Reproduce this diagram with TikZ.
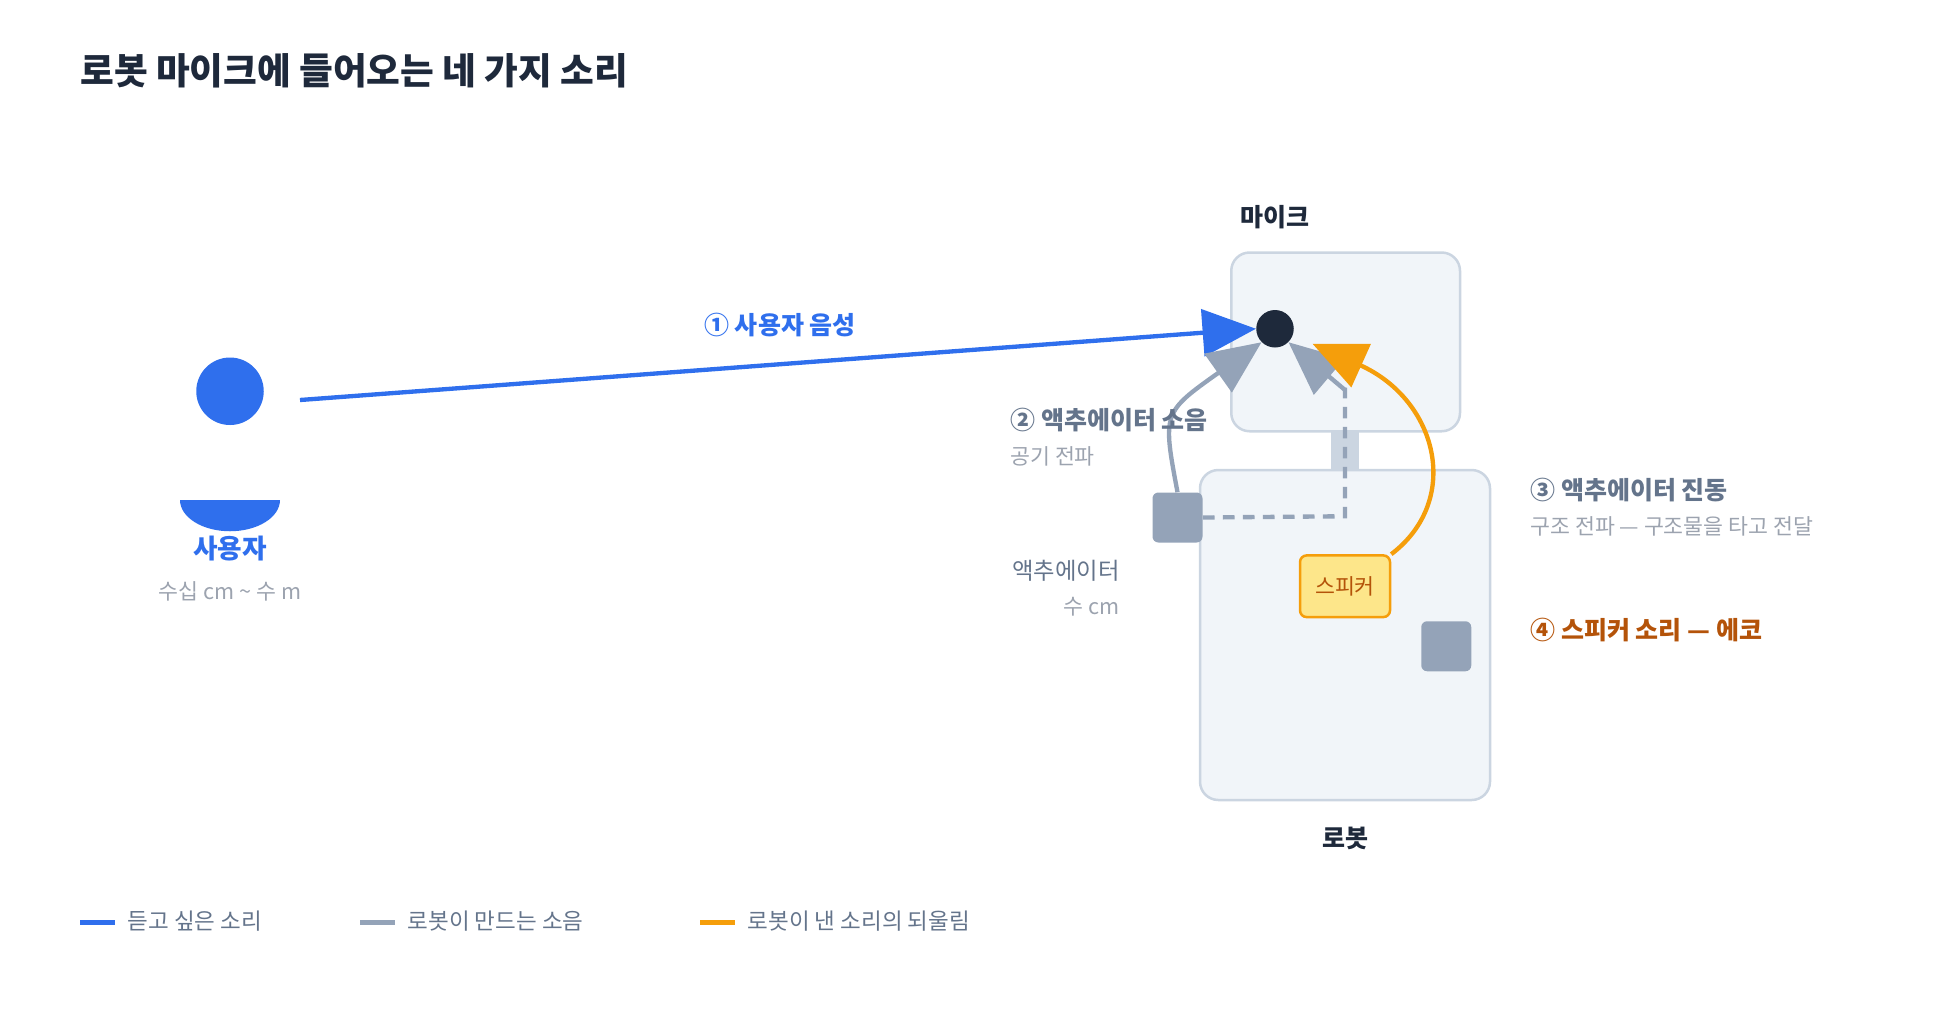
\documentclass[tikz,border=0pt]{standalone}
\usepackage{fontspec}
\setmainfont{Noto Sans CJK KR}
\usetikzlibrary{arrows.meta}
\definecolor{blueA}{HTML}{2F6FED}
\definecolor{grayA}{HTML}{94A3B8}
\definecolor{grayT}{HTML}{64748B}
\definecolor{grayL}{HTML}{9CA3AF}
\definecolor{orangeA}{HTML}{F59E0B}
\definecolor{brownA}{HTML}{B45309}
\definecolor{spkF}{HTML}{FDE68A}
\definecolor{boxF}{HTML}{F1F5F9}
\definecolor{boxD}{HTML}{CBD5E1}
\definecolor{ink}{HTML}{1E293B}
\tikzset{
  part/.style={draw=boxD, line width=1.5pt, fill=boxF, rounded corners=11pt},
  block/.style={fill=grayA, rounded corners=3.5pt},
  bighead/.style={-{Triangle[length=32pt,width=28pt]}},
  lbl/.style={font=\fontsize{15}{18}\selectfont\bfseries, inner sep=0pt},
  sub/.style={font=\fontsize{13}{16}\selectfont, text=grayL, inner sep=0pt},
}
\begin{document}
\begin{tikzpicture}[x=0.75pt, y=-0.75pt]
      \useasboundingbox (0, 0) rectangle (1568, 819);
      \node[anchor=west, inner sep=0pt, text=ink, font=\fontsize{22}{26}\selectfont\bfseries]
            (title) at (64, 57) {로봇 마이크에 들어오는 네 가지 소리};
      % user
      \fill[blueA] (184, 313) circle[radius=27];
      \fill[blueA] (144, 400) arc[start angle=180, end angle=0, x radius=40, y radius=25] -- cycle;
      \coordinate (user) at (240, 320);
      \node[lbl, text=blueA, font=\fontsize{16}{19}\selectfont\bfseries] (userlbl) at (184, 439) {사용자};
      \node[sub] (userdist) at (184, 473) {수십 cm \textasciitilde{} 수 m};
      % robot
      \fill[boxD] (1065, 340) rectangle (1087, 380);
      \draw[part] (985, 202) rectangle (1168, 345);
      \draw[part] (960, 376) rectangle (1192, 640);
      \node[lbl, text=ink] (miclbl) at (1020, 174) {마이크};
      \node[lbl, text=ink] (robotlbl) at (1076, 671) {로봇};
      \node[circle, fill=ink, minimum size=22.5pt, inner sep=0pt] (mic) at (1020, 263) {};
      \node[block, minimum size=30pt] (act) at (942, 414) {};
      \node[block, minimum size=30pt] (act2) at (1157, 517) {};
      \node[draw=orangeA, line width=1.5pt, fill=spkF,
            rounded corners=4pt, minimum width=54pt, minimum height=37pt, text=brownA,
            font=\fontsize{13}{16}\selectfont] (spk) at (1076, 469) {스피커};
      \coordinate (bend) at (1076, 413);
      % arrows
      \draw[blueA, line width=2.6pt, bighead] (user) -- (mic.west);
      \draw[grayA, line width=2.6pt, bighead] (act.north) .. controls (930, 330) .. (mic.south west);
      \draw[grayA, line width=2.6pt, dash pattern=on 7pt off 5pt] (act.east) -- (bend) -- (1076, 310);
      \draw[grayA, line width=2.6pt, bighead] (1076, 312) -- (mic.south east);
      \draw[orangeA, line width=2.6pt, bighead] (spk.north east) .. controls (1170, 400) and (1150, 320) .. (1050, 275);
      % labels
      \node[lbl, text=blueA] (l1) at (624, 260) {① 사용자 음성};
      \node[lbl, text=grayT, anchor=west] (l2) at (808, 336) {② 액추에이터 소음};
      \node[sub, anchor=west] (l2s) at (808, 365) {공기 전파};
      \node[anchor=east, inner sep=0pt, text=grayT, font=\fontsize{14}{17}\selectfont] (actlbl) at (896, 457) {액추에이터};
      \node[sub, anchor=east] (actdist) at (896, 485) {수 cm};
      \node[lbl, text=grayT, anchor=west] (l3) at (1224, 392) {③ 액추에이터 진동};
      \node[sub, anchor=west] (l3s) at (1224, 421) {구조 전파 — 구조물을 타고 전달};
      \node[lbl, text=brownA, anchor=west] (l4) at (1224, 504) {④ 스피커 소리 — 에코};
      % legend
      \foreach \x/\c/\t [count=\i] in {64/blueA/듣고 싶은 소리, 288/grayA/로봇이 만드는 소음, 560/orangeA/로봇이 낸 소리의 되울림} {
        \draw[\c, line width=3.5pt] (\x, 738) -- ++(28, 0);
        \node[anchor=west, inner sep=0pt, text=grayT, font=\fontsize{13.5}{16}\selectfont] (leg\i) at (\x+38, 737) {\t};
      }
\end{tikzpicture}
\end{document}
